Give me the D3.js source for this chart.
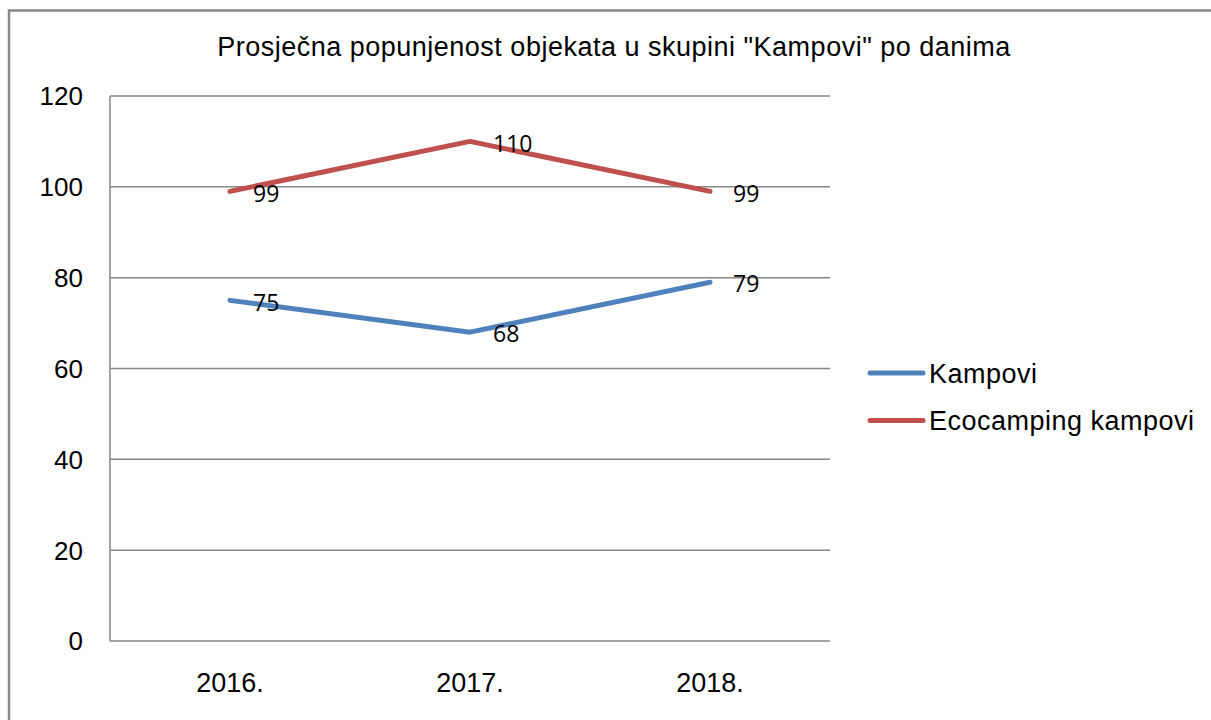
<!DOCTYPE html>
<html lang="hr">
<head>
    <meta charset="UTF-8">
    <title>Prosječna popunjenost - Kampovi</title>
    <script src="https://d3js.org/d3.v7.min.js"></script>
    <style>
        body { margin: 0; background: #fff; }
        text { font-family: "Liberation Sans", Arial, sans-serif; fill: #000; }
        .grid line { stroke: #868686; stroke-width: 1.5px; }
        .label { font-family: "Open Sans", "Liberation Sans", sans-serif; }
    </style>
</head>
<body>
    <svg width="1211" height="720"></svg>
    <script>
        // Data
        const years = ["2016.", "2017.", "2018."];
        const kampovi = [75, 68, 79];
        const ecocamping = [99, 110, 99];
        const yTicks = [0, 20, 40, 60, 80, 100, 120];
        const seriesNames = ["Kampovi", "Ecocamping kampovi"];
        const seriesColors = ["#4F81BD", "#C0504D"];

        const series = [kampovi, ecocamping].map((vals, i) => ({
            name: seriesNames[i],
            color: seriesColors[i],
            values: vals.map((v, j) => ({ year: years[j], value: v }))
        }));

        const svg = d3.select("svg");

        // chart frame (right and bottom edges fall outside the window)
        svg.append("rect")
            .attr("x", 9).attr("y", 10.5)
            .attr("width", 1230).attr("height", 760)
            .attr("fill", "none")
            .attr("stroke", "#868686")
            .attr("stroke-width", 2.5);

        const plot = { left: 110, right: 830, top: 96, bottom: 641 };

        const x = d3.scaleBand()
            .domain(years)
            .range([plot.left, plot.right]);

        const y = d3.scaleLinear()
            .domain([0, 120])
            .range([plot.bottom, plot.top]);

        // title
        svg.append("text")
            .attr("x", 614).attr("y", 56)
            .attr("text-anchor", "middle")
            .style("font-size", "27px")
            .style("letter-spacing", "0.5px")
            .text('Prosječna popunjenost objekata u skupini "Kampovi" po danima');

        // gridlines
        svg.append("g")
            .attr("class", "grid")
            .selectAll("line")
            .data(yTicks)
            .join("line")
            .attr("x1", plot.left).attr("x2", plot.right)
            .attr("y1", d => y(d)).attr("y2", d => y(d));

        // y axis line
        svg.append("line")
            .attr("x1", plot.left).attr("x2", plot.left)
            .attr("y1", plot.top).attr("y2", plot.bottom)
            .attr("stroke", "#868686").attr("stroke-width", 1.5);

        // y tick labels
        svg.append("g")
            .selectAll("text")
            .data(yTicks)
            .join("text")
            .attr("x", 83)
            .attr("y", d => y(d))
            .attr("dy", "0.36em")
            .attr("text-anchor", "end")
            .style("font-size", "26px")
            .text(d => d);

        // x labels
        svg.append("g")
            .selectAll("text")
            .data(years)
            .join("text")
            .attr("x", d => x(d) + x.bandwidth() / 2)
            .attr("y", 692)
            .attr("text-anchor", "middle")
            .style("font-size", "27px")
            .text(d => d);

        const line = d3.line()
            .x(d => x(d.year) + x.bandwidth() / 2)
            .y(d => y(d.value));

        // lines
        svg.append("g")
            .selectAll("path")
            .data(series)
            .join("path")
            .attr("d", d => line(d.values))
            .attr("fill", "none")
            .attr("stroke", d => d.color)
            .attr("stroke-width", 5)
            .attr("stroke-linecap", "round")
            .attr("stroke-linejoin", "round");

        // data labels
        series.forEach(s => {
            svg.append("g")
                .selectAll("text")
                .data(s.values)
                .join("text")
                .attr("class", "label")
                .attr("x", d => x(d.year) + x.bandwidth() / 2 + 23)
                .attr("y", d => y(d.value) + 2)
                .attr("dy", "0.36em")
                .style("font-size", "23px")
                .text(d => d.value);
        });

        // legend
        const legend = svg.append("g")
            .selectAll("g")
            .data(series)
            .join("g")
            .attr("transform", (d, i) => `translate(870, ${373 + i * 47.5})`);

        legend.append("line")
            .attr("x1", 0).attr("x2", 53)
            .attr("stroke", d => d.color)
            .attr("stroke-width", 5)
            .attr("stroke-linecap", "round");

        legend.append("text")
            .attr("x", 59)
            .attr("dy", "0.36em")
            .style("font-size", "27px")
            .style("letter-spacing", "0.5px")
            .text(d => d.name);
    </script>
</body>
</html>
